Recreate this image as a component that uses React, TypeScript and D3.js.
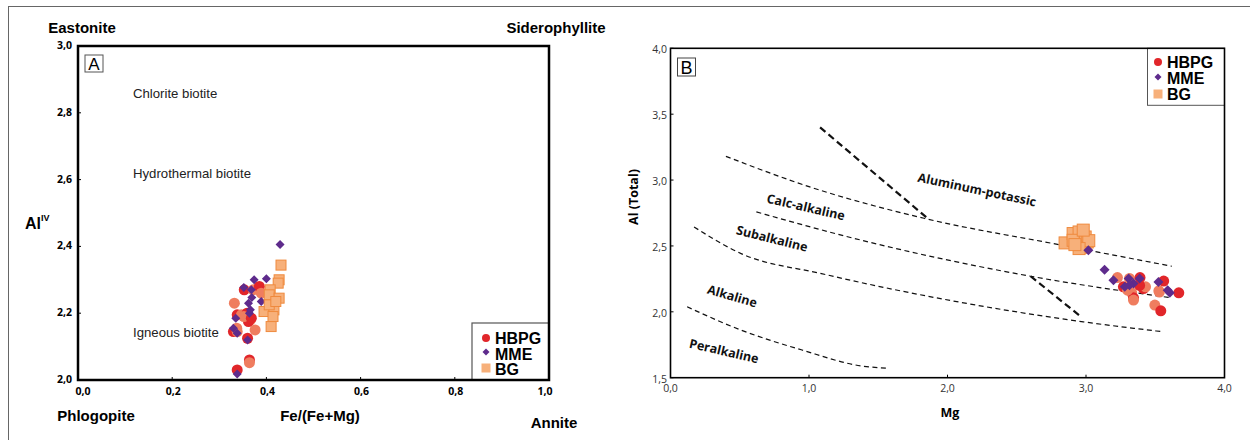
import React from "react";
import * as d3 from "d3";

// ---------- Panel A data: Fe/(Fe+Mg) vs Al IV ----------
const aHbpgX = [0.332, 0.353, 0.372, 0.385, 0.389, 0.338, 0.347, 0.359, 0.366, 0.362, 0.337, 0.330, 0.338, 0.360, 0.376, 0.364, 0.364, 0.338, 0.352, 0.368];
const aHbpgY = [2.23, 2.27, 2.27, 2.28, 2.26, 2.195, 2.195, 2.20, 2.18, 2.175, 2.155, 2.145, 2.145, 2.125, 2.15, 2.06, 2.052, 2.03, 2.19, 2.185];
const aMmeX = [0.429, 0.374, 0.400, 0.352, 0.362, 0.369, 0.389, 0.364, 0.335, 0.330, 0.338, 0.360, 0.338, 0.368, 0.366];
const aMmeY = [2.406, 2.30, 2.303, 2.277, 2.23, 2.247, 2.235, 2.20, 2.185, 2.155, 2.14, 2.12, 2.018, 2.27, 2.21];
const aBgX = [0.431, 0.427, 0.425, 0.408, 0.406, 0.427, 0.395, 0.416, 0.406, 0.414, 0.410, 0.420];
const aBgY = [2.344, 2.30, 2.29, 2.27, 2.255, 2.245, 2.205, 2.21, 2.225, 2.19, 2.16, 2.235];

const aXTicks = [0, 0.2, 0.4, 0.6, 0.8, 1.0];
const aYTicks = [2.0, 2.2, 2.4, 2.6, 2.8, 3.0];
const aFieldLabels = ["Chlorite biotite", "Hydrothermal biotite", "Igneous biotite"];
const aFieldY = [2.845, 2.605, 2.13];

// ---------- Panel B data: Mg vs Al(Total) ----------
const bHbpgX = [3.227, 3.27, 3.314, 3.39, 3.33, 3.343, 3.343, 3.415, 3.43, 3.387, 3.497, 3.54, 3.526, 3.561, 3.53, 3.67, 3.30];
const bHbpgY = [2.26, 2.19, 2.253, 2.26, 2.144, 2.106, 2.089, 2.177, 2.19, 2.20, 2.051, 2.008, 2.159, 2.233, 2.15, 2.144, 2.164];
const bMmeX = [3.017, 3.134, 3.198, 3.308, 3.343, 3.387, 3.314, 3.523, 3.605, 3.59, 3.28];
const bMmeY = [2.467, 2.32, 2.24, 2.253, 2.215, 2.253, 2.202, 2.227, 2.144, 2.164, 2.19];
const bBgX = [2.849, 2.907, 2.95, 2.994, 3.009, 2.965, 2.907, 3.02, 2.95, 2.98, 2.92];
const bBgY = [2.523, 2.594, 2.606, 2.568, 2.53, 2.49, 2.543, 2.54, 2.48, 2.62, 2.51];

const bXTicks = [0, 1, 2, 3, 4];
const bYTicks = [1.5, 2.0, 2.5, 3.0, 3.5, 4.0];

// boundary curves [x, y]
const bLineAlK: [number, number][] = [[0.40, 3.18], [1.0, 2.95], [1.83, 2.71], [2.83, 2.505], [3.62, 2.346]];
const bLineCalc: [number, number][] = [[0.62, 2.758], [1.38, 2.543], [2.60, 2.27], [3.62, 2.106]];
const bLineSub: [number, number][] = [[0.17, 2.644], [0.51, 2.442], [1.09, 2.29], [2.98, 1.924], [3.56, 1.848]];
const bLinePer: [number, number][] = [[0.12, 2.038], [0.51, 1.861], [0.95, 1.71], [1.38, 1.589], [1.57, 1.571]];
const bThick1: [number, number][] = [[1.08, 3.40], [1.85, 2.715]];
const bThick2: [number, number][] = [[2.60, 2.27], [2.965, 1.962]];

const bRegionLabels = ["Aluminum-potassic", "Calc-alkaline", "Subalkaline", "Alkaline", "Peralkaline"];
const bRegionX = [1.78, 0.69, 0.47, 0.26, 0.13];
const bRegionY = [2.99, 2.83, 2.59, 2.14, 1.73];
const bRegionRot = [12, 13, 14, 16, 13];

const legendNames = ["HBPG", "MME", "BG"];

const RED = "#e1262a";
const SALMON = "#ef7d5f";
const PURPLE = "#5e2b8c";
const BG_FILL = "#f7b07a";
const BG_STROKE = "#ef8a3e";

const diamond = (cx: number, cy: number, r: number) =>
  `M${cx},${cy - r}L${cx + r},${cy}L${cx},${cy + r}L${cx - r},${cy}Z`;

export default function App() {
  // Panel A scales
  const ax = d3.scaleLinear().domain([0, 1]).range([78, 549]);
  const ay = d3.scaleLinear().domain([2, 3]).range([380, 46]);
  // Panel B scales
  const bx = d3.scaleLinear().domain([0, 4]).range([670.5, 1224.5]);
  const by = d3.scaleLinear().domain([1.5, 4]).range([377.7, 48.3]);

  const fmt1 = (v: number) => d3.format(".1f")(v).replace(".", ",");
  const lineGen = (sx: any, sy: any) =>
    d3.line<[number, number]>().x((d) => sx(d[0])).y((d) => sy(d[1])).curve(d3.curveMonotoneX);
  const bl = lineGen(bx, by);
  const straight = d3.line<[number, number]>().x((d) => bx(d[0])).y((d) => by(d[1]));

  const boldSans = "'Liberation Sans', Arial, sans-serif";
  const openSans = "'Open Sans', sans-serif";

  return (
    <svg width={1250} height={440} style={{ position: "absolute", left: 0, top: 0, background: "#fff" }}>
      <rect x={0} y={0} width={1250} height={440} fill="#fff" />
      {/* outer frame */}
      <line x1={8} y1={6.5} x2={1250} y2={6.5} stroke="#666" strokeWidth={1} />
      <line x1={8.5} y1={6} x2={8.5} y2={440} stroke="#666" strokeWidth={1} />

      {/* ================= Panel A ================= */}
      <g>
        <text x={82} y={33} textAnchor="middle" fontFamily={boldSans} fontWeight="bold" fontSize={15}>Eastonite</text>
        <text x={556} y={33} textAnchor="middle" fontFamily={boldSans} fontWeight="bold" fontSize={15}>Siderophyllite</text>
        <text x={96} y={421} textAnchor="middle" fontFamily={boldSans} fontWeight="bold" fontSize={15}>Phlogopite</text>
        <text x={320} y={421} textAnchor="middle" fontFamily={boldSans} fontWeight="bold" fontSize={15}>Fe/(Fe+Mg)</text>
        <text x={554} y={428} textAnchor="middle" fontFamily={boldSans} fontWeight="bold" fontSize={15}>Annite</text>
        <text x={25} y={229} fontFamily={boldSans} fontWeight="bold" fontSize={16}>
          Al<tspan fontSize={9} dy={-8}>IV</tspan>
        </text>

        {aYTicks.map((t) => (
          <g key={"ay" + t}>
            <line x1={ax(0)} x2={ax(0) + 3} y1={ay(t)} y2={ay(t)} stroke="#000" strokeWidth={1} />
            <text x={72} y={ay(t) + 3} textAnchor="end" fontFamily={openSans} fontWeight="bold" fontSize={10.5}>{fmt1(t)}</text>
          </g>
        ))}
        {aXTicks.map((t) => (
          <g key={"ax" + t}>
            <line x1={ax(t)} x2={ax(t)} y1={ay(2)} y2={ay(2) - 3} stroke="#000" strokeWidth={1} />
            <text x={ax(t) + (t === 0 ? 5 : t === 1 ? -4 : 1)} y={395} textAnchor="middle" fontFamily={openSans} fontWeight="bold" fontSize={10.5}>{fmt1(t)}</text>
          </g>
        ))}

        {aFieldLabels.map((l, i) => (
          <text key={l} x={133} y={ay(aFieldY[i])} fontFamily={boldSans} fontSize={13.2} fill="#222">{l}</text>
        ))}

        {/* points */}
        {aHbpgX.map((x, i) => (
          <circle key={"ah" + i} cx={ax(x)} cy={ay(aHbpgY[i])} r={5.5} fill={i % 2 === 0 ? SALMON : RED} />
        ))}
        {aMmeX.map((x, i) => (
          <path key={"am" + i} d={diamond(ax(x), ay(aMmeY[i]), 4.5)} fill={PURPLE} />
        ))}
        {aBgX.map((x, i) => (
          <rect key={"ab" + i} x={ax(x) - 5} y={ay(aBgY[i]) - 5} width={10} height={10} fill={BG_FILL} stroke={BG_STROKE} strokeWidth={1} />
        ))}

        {/* A label box */}
        <rect x={85} y={55} width={18} height={17} fill="#fff" stroke="#555" strokeWidth={1} />
        <text x={94} y={70} textAnchor="middle" fontFamily={boldSans} fontSize={17}>A</text>

        {/* legend A */}
        <rect x={472} y={323} width={77} height={57} fill="#fff" stroke="#555" strokeWidth={1.2} />
        <circle cx={486} cy={338} r={4} fill={RED} />
        <path d={diamond(486, 352, 3.5)} fill={PURPLE} />
        <rect x={481.5} y={363.5} width={9} height={9} fill={BG_FILL} />
        {legendNames.map((n, i) => (
          <text key={"la" + n} x={495} y={344 + i * 15.5} fontFamily={boldSans} fontWeight="bold" fontSize={16}>{n}</text>
        ))}

        {/* axes frame */}
        <rect x={ax(0)} y={ay(3)} width={ax(1) - ax(0)} height={ay(2) - ay(3)} fill="none" stroke="#000" strokeWidth={2.5} />
      </g>

      {/* ================= Panel B ================= */}
      <g>
        {bYTicks.map((t) => (
          <g key={"by" + t}>
            <line x1={bx(0)} x2={bx(0) + 3} y1={by(t)} y2={by(t)} stroke="#000" strokeWidth={1} />
            <text x={667} y={by(t) + 5} textAnchor="end" fontFamily={openSans} fontSize={10.5} fill="#333">{fmt1(t)}</text>
          </g>
        ))}
        {bXTicks.map((t) => (
          <g key={"bx" + t}>
            <line x1={bx(t)} x2={bx(t)} y1={by(1.5)} y2={by(1.5) - 3} stroke="#000" strokeWidth={1} />
            <text x={bx(t)} y={392} textAnchor="middle" fontFamily={openSans} fontSize={10.5} fill="#333">{fmt1(t)}</text>
          </g>
        ))}
        <text x={950} y={417} textAnchor="middle" fontFamily={openSans} fontWeight="bold" fontSize={12.5}>Mg</text>
        <text transform={`translate(638,197) rotate(-90)`} textAnchor="middle" fontFamily={openSans} fontWeight="bold" fontSize={12.5}>Al (Total)</text>

        {/* boundaries */}
        {[bLineAlK, bLineCalc, bLineSub, bLinePer].map((pts, i) => (
          <path key={"bl" + i} d={bl(pts) || ""} fill="none" stroke="#111" strokeWidth={1.2} strokeDasharray="5,3.5" />
        ))}
        {[bThick1, bThick2].map((pts, i) => (
          <path key={"bt" + i} d={straight(pts) || ""} fill="none" stroke="#111" strokeWidth={2.2} strokeDasharray="7,4" />
        ))}

        {bRegionLabels.map((l, i) => (
          <text key={l} transform={`translate(${bx(bRegionX[i])},${by(bRegionY[i])}) rotate(${bRegionRot[i]})`} fontFamily={openSans} fontWeight="bold" fontSize={12.5} fill="#111">{l}</text>
        ))}

        {/* points */}
        {bBgX.map((x, i) => (
          <rect key={"bb" + i} x={bx(x) - 6} y={by(bBgY[i]) - 6} width={12} height={12} fill={BG_FILL} stroke={BG_STROKE} strokeWidth={1} />
        ))}
        {bHbpgX.map((x, i) => (
          <circle key={"bh" + i} cx={bx(x)} cy={by(bHbpgY[i])} r={5.5} fill={i % 2 === 0 ? SALMON : RED} />
        ))}
        {bMmeX.map((x, i) => (
          <path key={"bm" + i} d={diamond(bx(x), by(bMmeY[i]), 5)} fill={PURPLE} />
        ))}

        {/* B label box */}
        <rect x={677.5} y={58} width={18} height={18} fill="#fff" stroke="#444" strokeWidth={1} />
        <text x={686.5} y={73.5} textAnchor="middle" fontFamily={boldSans} fontSize={18}>B</text>

        {/* legend B */}
        <rect x={1147.5} y={48.3} width={77} height={57} fill="#fff" stroke="#555" strokeWidth={1} />
        <circle cx={1158} cy={62} r={4} fill={RED} />
        <path d={diamond(1158, 77, 3.5)} fill={PURPLE} />
        <rect x={1153.5} y={89.5} width={9} height={9} fill={BG_FILL} />
        {legendNames.map((n, i) => (
          <text key={"lb" + n} x={1167} y={68 + i * 16} fontFamily={boldSans} fontWeight="bold" fontSize={16}>{n}</text>
        ))}

        <rect x={bx(0)} y={by(4)} width={bx(4) - bx(0)} height={by(1.5) - by(4)} fill="none" stroke="#000" strokeWidth={1.6} />
      </g>
    </svg>
  );
}
